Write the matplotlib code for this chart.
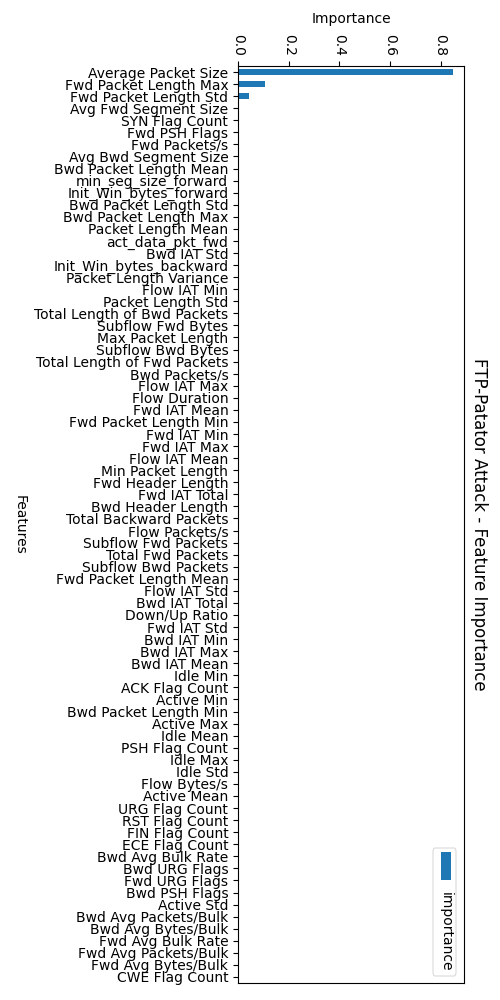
import matplotlib
matplotlib.use("Agg")
import matplotlib.pyplot as plt
from matplotlib.patches import FancyBboxPatch, Rectangle

features = [
    "Average Packet Size", "Fwd Packet Length Max", "Fwd Packet Length Std",
    "Avg Fwd Segment Size", "SYN Flag Count", "Fwd PSH Flags", "Fwd Packets/s",
    "Avg Bwd Segment Size", "Bwd Packet Length Mean", "min_seg_size_forward",
    "Init_Win_bytes_forward", "Bwd Packet Length Std", "Bwd Packet Length Max",
    "Packet Length Mean", "act_data_pkt_fwd", "Bwd IAT Std",
    "Init_Win_bytes_backward", "Packet Length Variance", "Flow IAT Min",
    "Packet Length Std", "Total Length of Bwd Packets", "Subflow Fwd Bytes",
    "Max Packet Length", "Subflow Bwd Bytes", "Total Length of Fwd Packets",
    "Bwd Packets/s", "Flow IAT Max", "Flow Duration", "Fwd IAT Mean",
    "Fwd Packet Length Min", "Fwd IAT Min", "Fwd IAT Max", "Flow IAT Mean",
    "Min Packet Length", "Fwd Header Length", "Fwd IAT Total",
    "Bwd Header Length", "Total Backward Packets", "Flow Packets/s",
    "Subflow Fwd Packets", "Total Fwd Packets", "Subflow Bwd Packets",
    "Fwd Packet Length Mean", "Flow IAT Std", "Bwd IAT Total", "Down/Up Ratio",
    "Fwd IAT Std", "Bwd IAT Min", "Bwd IAT Max", "Bwd IAT Mean", "Idle Min",
    "ACK Flag Count", "Active Min", "Bwd Packet Length Min", "Active Max",
    "Idle Mean", "PSH Flag Count", "Idle Max", "Idle Std", "Flow Bytes/s",
    "Active Mean", "URG Flag Count", "RST Flag Count", "FIN Flag Count",
    "ECE Flag Count", "Bwd Avg Bulk Rate", "Bwd URG Flags", "Fwd URG Flags",
    "Bwd PSH Flags", "Active Std", "Bwd Avg Packets/Bulk", "Bwd Avg Bytes/Bulk",
    "Fwd Avg Bulk Rate", "Fwd Avg Packets/Bulk", "Fwd Avg Bytes/Bulk",
    "CWE Flag Count",
]

importance = [
    0.850, 0.106, 0.042, 0.005, 0.002, 0.0015, 0.0012, 0.001, 0.0009, 0.0008,
    0.0007, 0.0006, 0.0005, 0.0005, 0.0004, 0.0004, 0.0003, 0.0003, 0.0003,
    0.0002, 0.0002, 0.0002, 0.0002, 0.0001, 0.0001, 0.0001, 0.0001, 0.0001,
    0.0001, 0.0001, 0.00008, 0.00008, 0.00007, 0.00007, 0.00006, 0.00006,
    0.00005, 0.00005, 0.00004, 0.00004, 0.00003, 0.00003, 0.00003, 0.00002,
    0.00002, 0.00002, 0.00001, 0.00001, 0.00001, 0.00001, 0.000005, 0.000005,
    0.000004, 0.000003, 0.000002, 0.000002, 0.000001, 0.000001, 0.000001,
    0.0000005, 0.0000003, 0.0, 0.0, 0.0, 0.0, 0.0, 0.0, 0.0, 0.0, 0.0, 0.0,
    0.0, 0.0, 0.0, 0.0, 0.0,
]

title = "FTP-Patator Attack - Feature Importance"
bar_color = "#1f77b4"

fig = plt.figure(figsize=(5, 10), dpi=100)
ax = fig.add_axes([0.476, 0.017, 0.452, 0.917])

pos = list(range(len(features)))
ax.barh(pos, importance, height=0.5, color=bar_color)
ax.set_ylim(len(features) - 0.5, -0.5)
ax.set_xlim(0, max(importance) * 1.05)
ax.set_yticks(pos)
ax.set_yticklabels(features, fontsize=10)

ax.xaxis.tick_top()
ax.set_xticks([0.0, 0.2, 0.4, 0.6, 0.8])
ax.set_xticklabels(["0.0", "0.2", "0.4", "0.6", "0.8"], rotation=270, fontsize=10)
ax.xaxis.set_label_position("top")
ax.set_xlabel("Importance", fontsize=10, labelpad=8)

fig.text(0.04, 0.4755, "Features", rotation=270, ha="center", va="center", fontsize=10)
fig.text(0.957, 0.4755, title, rotation=270, ha="center", va="center", fontsize=12)

# Legend (rotated, drawn manually)
box = FancyBboxPatch((0.866, 0.024), 0.046, 0.128,
                     boxstyle="round,pad=0,rounding_size=0.004",
                     transform=fig.transFigure, facecolor="white",
                     edgecolor="#d0d0d0", linewidth=0.8, alpha=0.8)
fig.add_artist(box)
fig.add_artist(Rectangle((0.881, 0.1205), 0.0205, 0.0275,
                         transform=fig.transFigure, facecolor=bar_color,
                         edgecolor="none"))
fig.text(0.8925, 0.108, "importance", rotation=270, ha="center", va="top", fontsize=10)

fig.savefig("out.png", dpi=100)
